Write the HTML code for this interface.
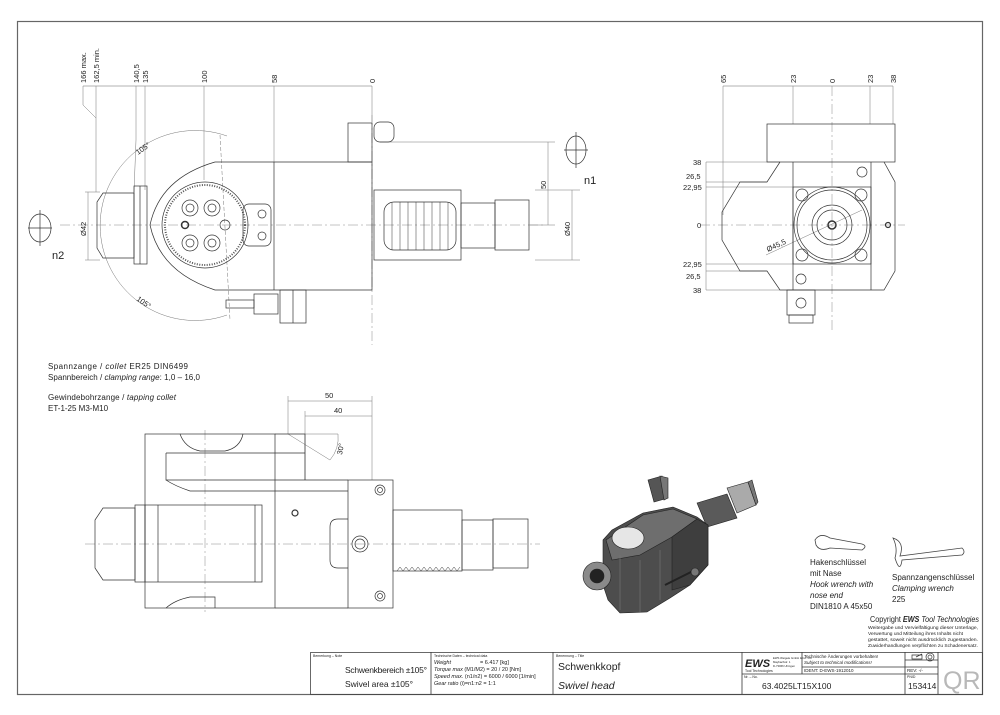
<!DOCTYPE html>
<html><head><meta charset="utf-8"><style>
html,body{margin:0;padding:0;background:#fff}
svg{display:block}
text{font-family:"Liberation Sans",sans-serif;fill:#222}
</style></head><body>
<svg width="1000" height="715" viewBox="0 0 1000 715" xmlns="http://www.w3.org/2000/svg">
<g fill="none" stroke="#333" stroke-width="0.8">
<rect x="17.5" y="21.5" width="965" height="673" stroke="#666" stroke-width="1.2"/>
<rect x="310.5" y="652.5" width="672" height="42" stroke="#444"/>
<line x1="431" y1="652" x2="431" y2="694"/>
<line x1="553" y1="652" x2="553" y2="694"/>
<line x1="742" y1="652" x2="742" y2="694"/>
<line x1="742" y1="674" x2="938" y2="674"/>
<line x1="802" y1="652" x2="802" y2="674"/>
<line x1="802" y1="667" x2="938" y2="667"/>
<line x1="905" y1="652" x2="905" y2="694"/>
<line x1="938" y1="652" x2="938" y2="694"/>
<line x1="905" y1="660" x2="938" y2="660"/>
</g>

<g fill="none" stroke="#333" stroke-width="0.7">
<line x1="83" y1="86" x2="372" y2="86" stroke="#666" stroke-width="0.5"/>
<g stroke="#777" stroke-width="0.5">
<polyline points="83,86 83,105 96,118 96,192"/>
<line x1="96" y1="86" x2="96" y2="118"/>
<polyline points="136,86 136,140 134,192"/>
<line x1="145" y1="86" x2="145" y2="190"/>
<line x1="204" y1="86" x2="204" y2="180"/>
<line x1="274" y1="86" x2="274" y2="162"/>
<line x1="372" y1="86" x2="372" y2="122"/>
<line x1="380" y1="142" x2="555" y2="142"/>
<line x1="530" y1="225" x2="555" y2="225"/>
<line x1="548" y1="142" x2="548" y2="225"/>
<line x1="535" y1="190" x2="580" y2="190"/>
<line x1="535" y1="260" x2="580" y2="260"/>
<line x1="572" y1="190" x2="572" y2="260"/>
<line x1="85" y1="192" x2="100" y2="192"/>
<line x1="85" y1="260" x2="100" y2="260"/>
<line x1="88" y1="192" x2="88" y2="260"/>
<path d="M227,136 A95,95 0 1,0 227,315"/>
<line x1="220" y1="135" x2="230" y2="320" stroke-dasharray="4,2"/>
</g>
<line x1="60" y1="225" x2="545" y2="225" stroke="#888" stroke-width="0.5" stroke-dasharray="10,3,2,3"/>
<line x1="372" y1="115" x2="372" y2="345" stroke="#888" stroke-width="0.5" stroke-dasharray="10,3,2,3"/>
<rect x="348" y="123" width="24" height="39"/>
<rect x="374" y="122" width="20" height="20" rx="6"/>
<path d="M215,162 L372,162 L372,290 L215,290 Q160,272 150,225 Q160,178 215,162 Z"/>
<line x1="274" y1="162" x2="274" y2="290"/>
<path d="M103,193 L134,193 L134,258 L103,258 L97,248 L97,202 Z"/>
<rect x="134" y="186" width="13" height="78"/>
<line x1="140" y1="186" x2="140" y2="264"/>
<circle cx="205" cy="225" r="43"/>
<circle cx="205" cy="225" r="40" stroke-width="2" stroke="#555" stroke-dasharray="1,1.5"/>
<circle cx="190" cy="208" r="8"/><circle cx="190" cy="208" r="4"/>
<circle cx="212" cy="208" r="8"/><circle cx="212" cy="208" r="4"/>
<circle cx="190" cy="243" r="8"/><circle cx="190" cy="243" r="4"/>
<circle cx="212" cy="243" r="8"/><circle cx="212" cy="243" r="4"/>
<circle cx="185" cy="225" r="3.5" stroke-width="1.5"/>
<circle cx="225" cy="225" r="5"/>
<rect x="243" y="204" width="28" height="42" rx="6"/>
<circle cx="262" cy="214" r="4"/><circle cx="262" cy="236" r="4"/>
<rect x="374" y="190" width="87" height="70"/>
<rect x="384" y="202" width="72" height="48" rx="10"/>
<g stroke-width="0.5"><line x1="392" y1="202" x2="392" y2="250"/><line x1="400" y1="202" x2="400" y2="250"/><line x1="408" y1="202" x2="408" y2="250"/><line x1="416" y1="202" x2="416" y2="250"/><line x1="424" y1="202" x2="424" y2="250"/><line x1="432" y1="202" x2="432" y2="250"/><line x1="440" y1="202" x2="440" y2="250"/><line x1="448" y1="202" x2="448" y2="250"/></g>
<rect x="461" y="203" width="34" height="45"/>
<rect x="495" y="200" width="34" height="50"/>
<rect x="226" y="300" width="28" height="8"/>
<rect x="254" y="294" width="24" height="20"/>
<rect x="280" y="290" width="26" height="33"/>
<line x1="293" y1="290" x2="293" y2="323"/>
<ellipse cx="40" cy="228" rx="11" ry="14"/>
<line x1="28" y1="228" x2="52" y2="228"/><line x1="40" y1="210" x2="40" y2="246"/>
<ellipse cx="576" cy="150" rx="10" ry="14"/>
<line x1="564" y1="150" x2="588" y2="150"/><line x1="576" y1="132" x2="576" y2="168"/>
</g>
<g font-size="7.5">
<text transform="translate(86,83) rotate(-90)">166 max.</text>
<text transform="translate(99,83) rotate(-90)">162,5 min.</text>
<text transform="translate(139,83) rotate(-90)">140,5</text>
<text transform="translate(148,83) rotate(-90)">135</text>
<text transform="translate(207,83) rotate(-90)">100</text>
<text transform="translate(277,83) rotate(-90)">58</text>
<text transform="translate(375,83) rotate(-90)">0</text>
<text transform="translate(546,189) rotate(-90)">50</text>
<text transform="translate(570,236) rotate(-90)">Ø40</text>
<text transform="translate(86,236) rotate(-90)">Ø42</text>
<text transform="translate(138,155) rotate(-35)">105°</text>
<text transform="translate(136,300) rotate(35)">105°</text>
</g>
<text x="52" y="259" font-size="11">n2</text>
<text x="584" y="184" font-size="11">n1</text>

<g fill="none" stroke="#333" stroke-width="0.7">
<line x1="723" y1="86" x2="893" y2="86" stroke="#666" stroke-width="0.5"/>
<g stroke="#777" stroke-width="0.5">
<line x1="723" y1="86" x2="723" y2="215"/>
<line x1="793" y1="86" x2="793" y2="124"/>
<line x1="870" y1="86" x2="870" y2="124"/>
<line x1="893" y1="86" x2="893" y2="124"/>
<line x1="706" y1="162" x2="706" y2="290"/>
<line x1="706" y1="162" x2="780" y2="162"/><line x1="706" y1="182" x2="767" y2="182"/><line x1="706" y1="187" x2="793" y2="187"/>
<line x1="706" y1="264" x2="793" y2="264"/><line x1="706" y1="271" x2="767" y2="271"/><line x1="706" y1="290" x2="780" y2="290"/>
<line x1="766" y1="255" x2="862" y2="210"/>
</g>
<line x1="700" y1="225" x2="905" y2="225" stroke="#888" stroke-width="0.5" stroke-dasharray="10,3,2,3"/>
<line x1="832" y1="86" x2="832" y2="330" stroke="#888" stroke-width="0.5" stroke-dasharray="10,3,2,3"/>
<rect x="767" y="124" width="128" height="38"/>
<path d="M780,162 L767,182 L740,182 L722,212 L722,240 L740,271 L767,271 L780,290 L884,290 L895,271 L895,182 L884,162"/>
<line x1="793" y1="162" x2="793" y2="290"/><line x1="871" y1="162" x2="871" y2="290"/>
<rect x="793" y="187" width="78" height="77"/>
<circle cx="832" cy="225" r="38"/><circle cx="832" cy="225" r="35"/>
<circle cx="832" cy="225" r="20"/><circle cx="832" cy="225" r="15"/><circle cx="832" cy="225" r="4" stroke-width="1.5"/>
<circle cx="802" cy="195" r="6"/><circle cx="861" cy="195" r="6"/><circle cx="802" cy="255" r="6"/><circle cx="861" cy="255" r="6"/>
<circle cx="862" cy="172" r="5"/><circle cx="801" cy="279" r="5"/><circle cx="888" cy="225" r="2.5" stroke-width="1.2"/>
<rect x="787" y="290" width="28" height="25"/><circle cx="801" cy="303" r="5"/><rect x="789" y="315" width="24" height="8"/>
</g>
<g font-size="7.5">
<text transform="translate(726,83) rotate(-90)">65</text>
<text transform="translate(796,83) rotate(-90)">23</text>
<text transform="translate(835,83) rotate(-90)">0</text>
<text transform="translate(873,83) rotate(-90)">23</text>
<text transform="translate(896,83) rotate(-90)">38</text>
<text x="693" y="165">38</text><text x="686" y="179">26,5</text><text x="683" y="190">22,95</text>
<text x="697" y="228">0</text>
<text x="683" y="267">22,95</text><text x="686" y="279">26,5</text><text x="693" y="293">38</text>
<text transform="translate(768,252) rotate(-25)">Ø45,5</text>
</g>

<g font-size="8">
<text x="48" y="369" textLength="140">Spannzange / <tspan font-style="italic">collet</tspan>    ER25    DIN6499</text>
<text x="48" y="380" textLength="152">Spannbereich / <tspan font-style="italic">clamping range</tspan>: 1,0 – 16,0</text>
<text x="48" y="400" textLength="128">Gewindebohrzange / <tspan font-style="italic">tapping collet</tspan></text>
<text x="48" y="411">ET-1-25   M3-M10</text>
</g>

<g fill="none" stroke="#333" stroke-width="0.7">
<g stroke="#777" stroke-width="0.5">
<line x1="288" y1="401" x2="372" y2="401"/><line x1="305" y1="416" x2="372" y2="416"/>
<line x1="288" y1="396" x2="288" y2="434"/><line x1="305" y1="411" x2="305" y2="480"/>
<line x1="372" y1="396" x2="372" y2="480"/>
<line x1="288" y1="434" x2="330" y2="460"/><line x1="305" y1="434" x2="338" y2="434"/>
<path d="M338,434 A35,35 0 0,1 330,460"/>
</g>
<line x1="85" y1="544" x2="540" y2="544" stroke="#888" stroke-width="0.5" stroke-dasharray="10,3,2,3"/>
<line x1="205" y1="430" x2="205" y2="612" stroke="#888" stroke-width="0.5" stroke-dasharray="10,3,2,3"/>
<rect x="145" y="434" width="130" height="174"/>
<path d="M275,434 L305,434 L305,480"/>
<path d="M166,453 L305,453"/>
<path d="M166,453 L166,480 L275,480"/>
<path d="M180,434 Q185,448 200,451 L225,451 Q240,448 243,434"/>
<line x1="190" y1="491" x2="348" y2="491"/>
<path d="M166,480 Q175,486 190,491"/>
<line x1="275" y1="480" x2="348" y2="480"/>
<line x1="275" y1="608" x2="348" y2="608"/>
<path d="M166,608 Q175,600 190,597 L215,597 L215,608"/>
<rect x="145" y="505" width="117" height="77"/>
<line x1="255" y1="505" x2="255" y2="582"/>
<line x1="158" y1="505" x2="158" y2="582"/>
<path d="M103,508 L135,508 L135,580 L103,580 L95,568 L95,520 Z"/>
<rect x="135" y="505" width="10" height="77"/>
<rect x="348" y="480" width="45" height="128"/>
<circle cx="380" cy="490" r="5"/><circle cx="380" cy="490" r="2.5"/>
<circle cx="380" cy="596" r="5"/><circle cx="380" cy="596" r="2.5"/>
<circle cx="360" cy="544" r="8"/><circle cx="360" cy="544" r="5"/>
<path d="M348,519 L338,519 Q330,519 330,527 L330,560 Q330,568 338,568 L348,568"/>
<circle cx="295" cy="513" r="3" stroke-width="1.2"/>
<rect x="393" y="510" width="69" height="61"/>
<polyline points="397,571 400,567 403,571 406,567 409,571 412,567 415,571 418,567 421,571 424,567 427,571 430,567 433,571 436,567 439,571 442,567 445,571 448,567 451,571 454,567 457,571 460,567" stroke-width="0.5"/>
<rect x="462" y="520" width="31" height="50"/>
<rect x="493" y="519" width="35" height="49"/>
</g>
<g font-size="7.5">
<text x="325" y="398">50</text><text x="334" y="413">40</text>
<text transform="translate(342,455) rotate(-80)">30°</text>
</g>

<g stroke="#222" stroke-width="0.6">
<polygon points="648,480 662,476 668,498 654,502" fill="#555"/>
<polygon points="660,476 668,478 668,498 664,500" fill="#777"/>
<polygon points="697,503 727,494 737,518 707,527" fill="#5a5a5a"/>
<polygon points="727,488 748,482 756,505 737,513" fill="#aaa"/>
<polygon points="748,482 752,480 758,502 756,505" fill="#777"/>
<polygon points="603,540 612,530 643,513 673,507 697,517 708,525 708,565 690,585 670,598 647,612 620,613 608,600 603,585" fill="#4d4d4d"/>
<polygon points="606,540 643,515 673,509 697,519 672,537 640,555 612,560" fill="#6e6e6e"/>
<polygon points="672,537 697,519 708,525 708,565 690,585 672,590" fill="#3e3e3e"/>
<line x1="620" y1="555" x2="620" y2="610" stroke="#777"/>
<line x1="640" y1="560" x2="640" y2="612" stroke="#777"/>
<line x1="660" y1="550" x2="660" y2="600" stroke="#777"/>
<ellipse cx="628" cy="538" rx="16" ry="11" fill="#e6e6e6"/>
<ellipse cx="597" cy="576" rx="14" ry="14" fill="#8a8a8a"/>
<ellipse cx="597" cy="576" rx="7" ry="7" fill="#222"/>
<line x1="665" y1="585" x2="695" y2="570" stroke-width="2"/>
<circle cx="695" cy="572" r="4" fill="#777"/>
</g>

<g fill="none" stroke="#444" stroke-width="0.8">
<path d="M815,540 Q820,532 830,538 L862,544 Q868,546 862,550 L830,548 Q820,552 816,545 Z"/>
<path d="M893,538 Q905,542 900,556 L962,548 Q966,552 962,555 L902,560 Q900,574 895,558 Q898,548 893,538 Z"/>
</g>
<g font-size="8">
<text x="810" y="565">Hakenschlüssel</text>
<text x="810" y="576">mit Nase</text>
<text x="810" y="587" font-style="italic">Hook wrench with</text>
<text x="810" y="598" font-style="italic">nose end</text>
<text x="810" y="609">DIN1810  A  45x50</text>
<text x="892" y="580">Spannzangenschlüssel</text>
<text x="892" y="591" font-style="italic">Clamping wrench</text>
<text x="892" y="602">225</text>
</g>
<text x="870" y="622" font-size="7.8" textLength="109" lengthAdjust="spacingAndGlyphs">Copyright <tspan font-weight="bold" font-style="italic">EWS</tspan> <tspan font-style="italic">Tool Technologies</tspan></text>
<g font-size="4.8">
<text x="868" y="629" textLength="110" lengthAdjust="spacingAndGlyphs">Weitergabe und Vervielfältigung dieser Unterlage,</text>
<text x="868" y="635" textLength="95" lengthAdjust="spacingAndGlyphs">Verwertung und Mitteilung ihres Inhalts nicht</text>
<text x="868" y="641" textLength="110" lengthAdjust="spacingAndGlyphs">gestattet, soweit nicht ausdrücklich zugestanden.</text>
<text x="868" y="647" textLength="110" lengthAdjust="spacingAndGlyphs">Zuwiderhandlungen verpflichten zu Schadenersatz.</text>
</g>

<g font-size="3.5">
<text x="313" y="657">Bemerkung – Note</text>
<text x="434" y="657">Technische Daten – technical data</text>
<text x="556" y="657">Benennung – Title</text>
<text x="744" y="678">Nr. – No.</text>
<text x="907" y="678">PNID</text>
</g>
<text x="345" y="673" font-size="8.5" textLength="82">Schwenkbereich ±105°</text>
<text x="345" y="687" font-size="8.5" textLength="68">Swivel area ±105°</text>
<g font-size="5.5">
<text x="434" y="664" font-style="italic">Weight</text><text x="480" y="664">=  6.417 [kg]</text>
<text x="434" y="671" font-style="italic">Torque max <tspan font-style="normal">(M1/M2) =  20 / 20 [Nm]</tspan></text>
<text x="434" y="678" font-style="italic">Speed max. <tspan font-style="normal">(n1/n2)  =  6000 / 6000 [1/min]</tspan></text>
<text x="434" y="685" font-style="italic">Gear ratio <tspan font-style="normal">(i)=n1:n2 =  1:1</tspan></text>
</g>
<text x="558" y="670" font-size="10.5">Schwenkkopf</text>
<text x="558" y="689" font-size="10.5" font-style="italic">Swivel head</text>
<text x="745" y="667" font-size="11" font-weight="bold" font-style="italic">EWS</text>
<text x="745" y="672" font-size="3.5">Tool Technologies</text>
<g font-size="2.8"><text x="773" y="659">EWS Weigele GmbH &amp; Co. KG</text><text x="773" y="663">Maybachstr. 1</text><text x="773" y="667">D-73066 Uhingen</text></g>
<g font-size="4.5">
<text x="804" y="658">Technische Änderungen vorbehalten!</text>
<text x="804" y="664" font-style="italic">Subject to technical modifications!</text>
<text x="804" y="672">IDENT:  D-EWS-1912010</text>
<text x="907" y="672">REV:  -/-</text>
</g>
<text x="762" y="689" font-size="8.5">63.4025LT15X100</text>
<text x="908" y="689" font-size="8.5">153414</text>
<g fill="none" stroke="#333" stroke-width="0.7"><path d="M912,655 L922,655 L922,659 L912,659 Z M916,657 L922,654"/><circle cx="930" cy="657" r="4"/><circle cx="930" cy="657" r="2"/></g>
<text x="943" y="689" font-size="25" style="fill:#b8b8b8">QR</text>
</svg>
</body></html>
